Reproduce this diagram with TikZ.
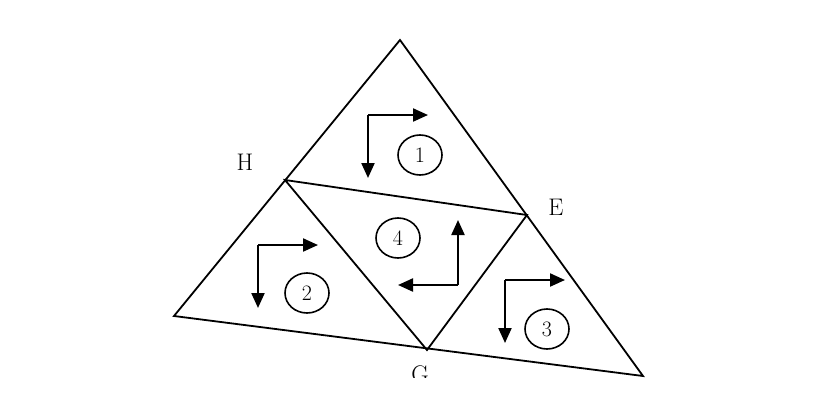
\documentclass[tikz,border=0pt]{standalone}
\usetikzlibrary{arrows.meta,shapes.geometric}
\tikzset{
  edge/.style={line width=1.8pt},
  turn/.style={line width=2.2pt,-{Triangle[length=15pt,width=13pt]}},
  num/.style={draw,ellipse,line width=1.6pt,minimum width=44pt,minimum height=40pt,inner sep=0pt,font=\fontsize{22}{26}\selectfont},
  lbl/.style={font=\fontsize{24}{28}\selectfont}
}
\begin{document}
\begin{tikzpicture}[x=1pt,y=-1pt]
\useasboundingbox[fill=white](0,0) rectangle (820,416);
\coordinate(A)at(400,40);
\coordinate(L)at(174,316);
\coordinate(R)at(643,376);
\coordinate(H)at(285,180);
\coordinate(E)at(527,215);
\coordinate(G)at(427,350);
\draw[edge](A)--(L)--(R)--cycle;
\draw[edge](H)--(E)--(G)--cycle;
\node[lbl](h)at(245,162){H};
\node[lbl](e)at(556,207){E};
\begin{scope}
\clip(0,0)rectangle(820,377);
\node[lbl](g)at(420,374){G};
\end{scope}
% region 1
\coordinate(c1)at(368,115);
\draw[turn](c1)--(428,115);
\draw[turn](c1)--(368,178);
\node[num](n1)at(420,155){1};
% region 2
\coordinate(c2)at(258,245);
\draw[turn](c2)--(318,245);
\draw[turn](c2)--(258,308);
\node[num](n2)at(307,293){2};
% region 3
\coordinate(c3)at(505,280);
\draw[turn](c3)--(565,280);
\draw[turn](c3)--(505,343);
\node[num](n3)at(547,329){3};
% region 4
\coordinate(c4)at(458,285);
\draw[turn](c4)--(458,220);
\draw[turn](c4)--(398,285);
\node[num](n4)at(398,238){4};
\end{tikzpicture}
\end{document}
